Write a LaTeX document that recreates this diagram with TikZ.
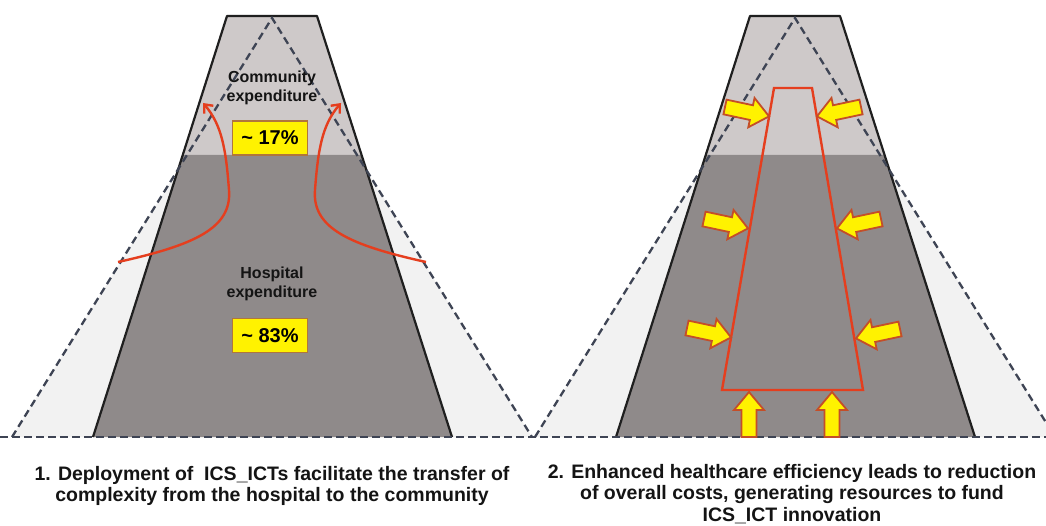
\documentclass[tikz,border=0pt]{standalone}
\usepackage{fontspec}
\setmainfont{Liberation Sans}
\usetikzlibrary{arrows.meta}
\definecolor{lighttop}{RGB}{206,201,201}
\definecolor{darkbot}{RGB}{143,138,138}
\definecolor{trifill}{RGB}{242,242,242}
\definecolor{dashcol}{RGB}{62,68,84}
\definecolor{redline}{RGB}{229,62,30}
\definecolor{yfill}{RGB}{255,242,0}
\definecolor{yborder}{RGB}{176,118,60}
\definecolor{aborder}{RGB}{196,78,40}
\tikzset{
  edge/.style={draw=black!88,line width=2.2pt,line join=round},
  dashln/.style={draw=dashcol,line width=2.3pt,dash pattern=on 7.5pt off 4.5pt},
  lbl/.style={align=center,font=\bfseries\fontsize{16}{19.5}\selectfont,text=black!92,inner sep=0pt},
  pct/.style={fill=yfill,draw=yborder,line width=1.4pt,minimum width=75pt,minimum height=34pt,inner sep=0pt,font=\bfseries\fontsize{20}{24}\selectfont},
  captext/.style={align=center,inner sep=0pt,text=black!92},
  redarr/.style={draw=redline,line width=2.4pt,-{Straight Barb[length=7pt,width=12pt,line width=2.4pt]}},
  redbox/.style={draw=redline,line width=2.4pt,line join=miter},
  yarrstyle/.style={fill=yfill,draw=aborder,line width=1.8pt,line join=miter},
  yarr/.pic={\draw[yarrstyle] (0,-7.5) -- (27,-7.5) -- (27,-15) -- (45,0) -- (27,15) -- (27,7.5) -- (0,7.5) -- cycle;}
}
\begin{document}
\begin{tikzpicture}[x=1pt,y=-1pt]
\useasboundingbox (0,0) rectangle (1046,526);
\fill[white] (0,0) rectangle (1046,526);
% ---------- left panel ----------
\fill[trifill] (272,18) -- (12,437) -- (532,437) -- cycle;
\fill[lighttop] (227,16) -- (317,16) -- (362,155) -- (182,155) -- cycle;
\fill[darkbot] (182,155) -- (362,155) -- (452,437) -- (93,437) -- cycle;
\draw[edge] (93,437) -- (227,16) -- (317,16) -- (452,437);
\draw[dashln] (12,437) -- (272,18) -- (532,437);
% ---------- right panel ----------
\fill[trifill] (795,18) -- (535,437) -- (1055,437) -- cycle;
\fill[lighttop] (750,16) -- (840,16) -- (885,155) -- (705,155) -- cycle;
\fill[darkbot] (705,155) -- (885,155) -- (975,437) -- (616,437) -- cycle;
\draw[edge] (616,437) -- (750,16) -- (840,16) -- (975,437);
\draw[dashln] (535,437) -- (795,18) -- (1055,437);
% baseline
\draw[dashln] (0,437) -- (1046,437);
% ---------- left labels ----------
\node[lbl] (comm) at (272,88) {Community\\expenditure};
\node[pct] (p17) at (270,138) {\textasciitilde\ 17\%};
\node[lbl] (hosp) at (272,284) {Hospital\\expenditure};
\node[pct] (p83) at (270,335.5) {\textasciitilde\ 83\%};
% red curved arrows
\coordinate (la0) at (118,262);
\coordinate (la1) at (229,190);
\coordinate (la2) at (203,103);
\coordinate (ra0) at (426,262);
\coordinate (ra1) at (315,190);
\coordinate (ra2) at (341,103);
\draw[redarr] (la0) .. controls (195,245) and (232,228) .. (la1) .. controls (226,150) and (222,125) .. (la2);
\draw[redarr] (ra0) .. controls (349,245) and (312,228) .. (ra1) .. controls (318,150) and (322,125) .. (ra2);
% ---------- right panel: red trapezoid and arrows ----------
\draw[redbox] (774,88) -- (812,88) -- (863,390) -- (722,390) -- cycle;
\pic[rotate=-12] at (725,107) {yarr};
\pic[rotate=192] at (861,107) {yarr};
\pic[rotate=-12] at (704,219) {yarr};
\pic[rotate=192] at (881,219) {yarr};
\pic[rotate=-12] at (687,328) {yarr};
\pic[rotate=192] at (900,329) {yarr};
\pic[rotate=90] at (749,437) {yarr};
\pic[rotate=90] at (832,437) {yarr};
% ---------- captions ----------
\node[captext,font=\bfseries\fontsize{19.5}{20.5}\selectfont] (cap1) at (272,486) {1. Deployment of\ \ ICS\_ICTs facilitate the transfer of\\complexity from the hospital to the community};
\node[captext,font=\bfseries\fontsize{19.5}{21.5}\selectfont] (cap2) at (792,494) {2. Enhanced healthcare efficiency leads to reduction\\of overall costs, generating resources to fund\\ICS\_ICT innovation};
\end{tikzpicture}
\end{document}
